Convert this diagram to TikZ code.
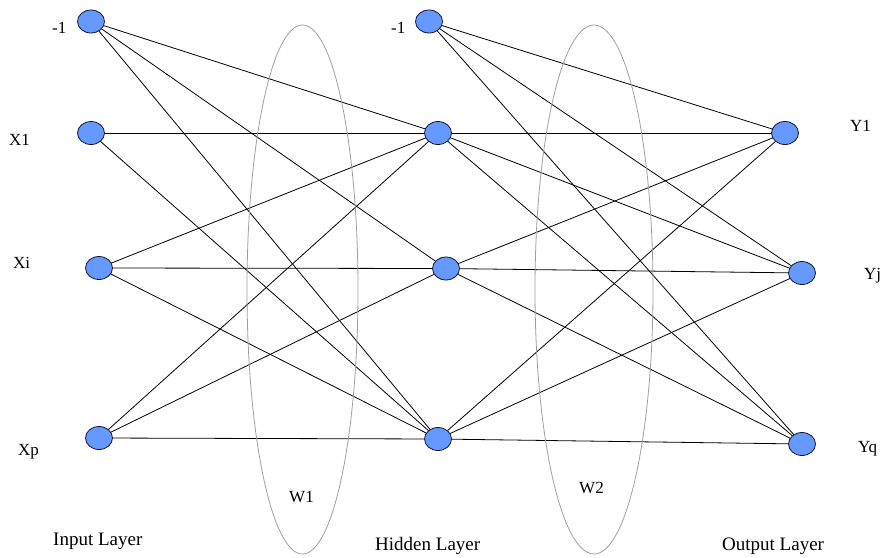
\documentclass[tikz,border=0pt]{standalone}
\usepackage{fontspec}
\setmainfont{Liberation Serif}
\usetikzlibrary{shapes.geometric}
\pgfdeclarelayer{bg}
\pgfsetlayers{bg,main}
\definecolor{nfill}{RGB}{102,153,255}
\definecolor{nline}{RGB}{20,20,50}
\begin{document}
\begin{tikzpicture}[x=1pt,y=-1pt,
  neuron/.style={ellipse,draw=nline,line width=0.8pt,fill=nfill,minimum width=27pt,minimum height=23pt,inner sep=0pt},
  lbl/.style={anchor=base west,inner sep=0pt,font=\fontsize{17}{20}\selectfont},
  layer/.style={anchor=base west,inner sep=0pt,font=\fontsize{19}{22}\selectfont},
  link/.style={line width=0.8pt,black},
  wgt/.style={ellipse,draw=gray!75,line width=0.8pt,inner sep=0pt}]
\useasboundingbox (0,0) rectangle (883,557);
% weight ellipses
\node[wgt,minimum width=111pt,minimum height=529pt] (w1) at (302.5,289.5) {};
\node[wgt,minimum width=118pt,minimum height=529pt] (w2) at (594,289.5) {};
% neurons
\node[neuron] (i0) at (91,21.5) {};
\node[neuron] (i1) at (91,133) {};
\node[neuron] (i2) at (99,268) {};
\node[neuron] (i3) at (99,438) {};
\node[neuron] (h0) at (429,21.5) {};
\node[neuron] (h1) at (438,133) {};
\node[neuron] (h2) at (446,268.5) {};
\node[neuron] (h3) at (438,439) {};
\node[neuron] (o1) at (785,133) {};
\node[neuron] (o2) at (802,273) {};
\node[neuron] (o3) at (802,444) {};
% connections
\begin{pgfonlayer}{bg}
\foreach \a/\b in {i0/h1,i0/h2,i0/h3,i1/h1,i1/h3,i2/h1,i2/h2,i2/h3,i3/h1,i3/h2,i3/h3,
  h0/o1,h0/o2,h0/o3,h1/o1,h1/o2,h1/o3,h2/o1,h2/o2,h2/o3,h3/o1,h3/o2,h3/o3}
  \draw[link] (\a.center) -- (\b.center);
\end{pgfonlayer}
% labels
\node[lbl] (li0) at (52,33) {-1};
\node[lbl] (li1) at (9,145) {X1};
\node[lbl] (li2) at (13,268) {Xi};
\node[lbl] (li3) at (18,455) {Xp};
\node[lbl] (lh0) at (391,33) {-1};
\node[lbl] (lo1) at (850,131) {Y1};
\node[lbl] (lo2) at (864,279) {Yj};
\node[lbl] (lo3) at (858,452) {Yq};
\node[lbl] (lw1) at (289,502) {W1};
\node[lbl] (lw2) at (579,493) {W2};
\node[layer] (lin) at (53,545) {Input Layer};
\node[layer] (lhid) at (375,550) {Hidden Layer};
\node[layer] (lout) at (722,550) {Output Layer};
\end{tikzpicture}
\end{document}
